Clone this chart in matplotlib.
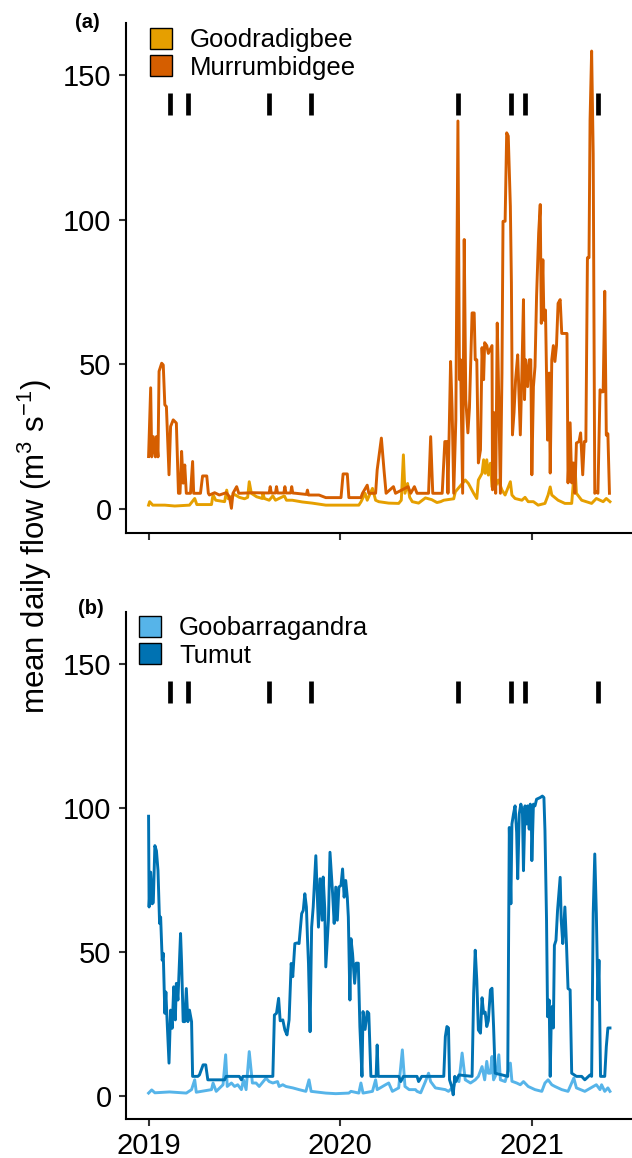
import numpy as np
import matplotlib
matplotlib.use('Agg')
import matplotlib.pyplot as plt
from matplotlib.patches import Patch

plt.rcParams['font.family'] = ['Liberation Sans', 'DejaVu Sans']
plt.rcParams['mathtext.fontset'] = 'custom'
plt.rcParams['mathtext.rm'] = 'Liberation Sans'
plt.rcParams['mathtext.it'] = 'Liberation Sans:italic'

# ---------------- data (day offset from 2019-01-01, mean daily flow) -------------
murr_day = [0, 4, 6, 9, 13, 15, 18, 20, 25, 28, 31, 34, 39, 42, 47, 53, 57, 60, 63, 66,
            69, 72, 80, 84, 86, 99, 103, 111, 114, 116, 126, 135, 148, 154, 158, 161, 168, 172, 199, 230,
            232, 234, 242, 244, 246, 258, 260, 262, 271, 273, 275, 281, 301, 303, 305, 325, 338, 367, 371, 379,
            382, 405, 408, 417, 420, 433, 436, 444, 449, 453, 467, 471, 495, 500, 507, 512, 534, 538, 542, 560,
            565, 569, 571, 576, 579, 582, 586, 590, 593, 595, 599, 602, 605, 609, 612, 617, 621, 623, 626, 629,
            633, 636, 639, 641, 645, 648, 655, 656, 659, 662, 665, 667, 671, 674, 676, 680, 683, 686, 690, 692,
            694, 697, 700, 704, 709, 712, 715, 717, 719, 723, 726, 729, 731, 734, 737, 740, 744, 747, 749, 752,
            754, 757, 761, 764, 766, 769, 772, 775, 778, 781, 785, 788, 794, 798, 800, 804, 807, 810, 813, 816,
            821, 824, 828, 831, 834, 837, 840, 842, 845, 848, 851, 854, 857, 861, 864, 867, 870, 873, 876, 879]
murr_flow = [18.1, 41.9, 18.0, 25.0, 18.0, 25.0, 18.0, 47.6, 50.4, 49.8, 36.0, 35.4, 11.8, 28.5, 30.8, 29.7, 5.4, 5.4, 19.9, 8.9,
             15.2, 5.4, 5.4, 16.4, 5.4, 5.4, 11.4, 11.4, 5.4, 4.8, 5.6, 4.8, 5.6, 4.3, 0.2, 5.4, 7.7, 5.4, 5.6, 5.5,
             7.7, 5.5, 5.5, 7.7, 5.5, 5.5, 7.7, 5.5, 5.5, 7.7, 5.5, 5.4, 5.0, 6.5, 4.8, 4.8, 3.9, 3.9, 12.1, 12.1,
             3.9, 3.9, 5.4, 8.2, 5.4, 5.4, 13.5, 24.5, 13.5, 5.4, 7.7, 5.4, 7.7, 5.4, 7.7, 5.4, 5.4, 25.0, 5.4, 5.4,
             23.3, 23.3, 5.4, 51.0, 34.3, 5.4, 30.8, 134.2, 44.7, 51.6, 5.4, 93.2, 37.8, 26.3, 35.0, 67.8, 67.8, 51.6, 51.6, 15.9,
             20.4, 55.8, 44.7, 57.5, 56.5, 53.8, 56.5, 6.6, 33.3, 5.4, 64.3, 47.0, 5.4, 47.0, 99.5, 99.5, 130.1, 129.0, 104.7, 78.3,
             25.6, 33.3, 44.7, 53.3, 25.6, 47.0, 72.4, 37.8, 51.6, 42.3, 51.6, 51.6, 11.8, 42.3, 49.2, 73.5, 95.5, 105.3, 64.2, 86.2,
             65.3, 68.8, 23.8, 47.0, 12.4, 51.6, 56.5, 51.0, 56.5, 71.1, 72.4, 60.7, 60.7, 60.7, 9.0, 29.8, 9.0, 15.9, 5.4, 22.8,
             23.3, 26.3, 11.8, 23.3, 23.3, 86.9, 86.9, 134.4, 158.4, 122.9, 5.4, 6.0, 5.4, 41.2, 40.5, 40.5, 75.3, 25.5, 26.0, 5.4]

good_day = [0, 2, 8, 31, 50, 78, 88, 92, 120, 123, 128, 145, 149, 152, 158, 164, 173, 183, 189, 192,
            196, 206, 217, 218, 221, 230, 237, 242, 259, 263, 274, 293, 312, 338, 363, 401, 405, 413, 417, 427,
            433, 439, 458, 477, 482, 486, 489, 494, 498, 503, 515, 528, 540, 550, 557, 563, 582, 585, 604, 610,
            620, 626, 629, 636, 639, 642, 645, 648, 652, 655, 661, 667, 674, 680, 690, 693, 699, 712, 718, 724,
            734, 743, 756, 762, 766, 769, 781, 794, 807, 813, 816, 826, 845, 854, 861, 867, 873, 880]
good_flow = [1.3, 2.5, 1.3, 1.3, 1.0, 1.3, 3.6, 1.5, 1.5, 5.0, 3.0, 2.5, 6.5, 3.5, 4.2, 5.0, 4.0, 3.5, 4.0, 9.4,
             5.4, 4.2, 3.6, 5.4, 3.6, 3.0, 4.5, 3.0, 4.5, 3.0, 3.0, 2.4, 2.0, 1.3, 1.3, 1.3, 2.4, 5.4, 3.0, 7.1,
             3.0, 2.5, 2.0, 1.9, 3.0, 18.7, 5.4, 8.8, 4.0, 2.5, 2.0, 3.8, 3.2, 2.2, 2.5, 3.0, 3.5, 5.9, 10.0, 8.8,
             5.4, 3.6, 10.0, 12.3, 17.0, 12.3, 17.0, 11.7, 15.8, 7.6, 7.6, 10.0, 6.5, 4.8, 9.4, 4.8, 3.6, 3.0, 4.0, 2.5,
             2.5, 1.3, 1.9, 4.8, 7.6, 4.8, 3.0, 1.9, 1.9, 15.8, 5.4, 3.0, 1.9, 3.6, 3.0, 2.5, 3.6, 2.5]

tumut_day = [0, 1, 4, 7, 9, 12, 15, 18, 21, 23, 26, 28, 31, 33, 35, 39, 42, 45, 48, 51,
             53, 56, 59, 61, 63, 66, 69, 72, 75, 78, 82, 84, 94, 97, 104, 109, 113, 145, 148, 173,
             177, 180, 237, 240, 244, 248, 251, 256, 260, 264, 268, 272, 275, 279, 283, 287, 292, 295, 298, 301,
             303, 305, 308, 311, 314, 319, 324, 327, 331, 333, 336, 338, 343, 346, 351, 354, 357, 360, 363, 367,
             370, 373, 376, 379, 381, 384, 386, 389, 393, 396, 400, 403, 407, 409, 413, 417, 420, 424, 434, 436,
             438, 477, 481, 486, 512, 515, 521, 563, 566, 569, 572, 574, 578, 581, 584, 586, 592, 617, 620, 623,
             626, 629, 633, 636, 639, 642, 645, 648, 652, 655, 658, 661, 685, 688, 691, 693, 696, 699, 702, 704,
             707, 710, 713, 715, 718, 721, 723, 726, 728, 730, 731, 734, 737, 740, 747, 751, 754, 756, 759, 761,
             764, 766, 768, 770, 772, 774, 777, 780, 785, 787, 790, 794, 797, 800, 804, 807, 816, 826, 832, 842,
             845, 848, 851, 854, 857, 859, 862, 870, 873, 876, 880]
tumut_flow = [97.0, 65.5, 77.6, 66.6, 67.0, 86.8, 85.0, 78.1, 59.8, 62.0, 47.0, 49.4, 28.6, 36.0, 27.4, 11.3, 29.7, 23.4, 37.8, 26.3,
              39.0, 33.2, 47.0, 56.3, 46.0, 25.7, 25.7, 37.2, 25.7, 29.7, 25.7, 6.7, 6.7, 7.2, 10.7, 10.7, 5.5, 5.5, 6.7, 6.7,
              5.5, 6.7, 6.7, 28.0, 28.6, 33.8, 26.0, 26.3, 22.8, 21.1, 26.3, 45.9, 41.3, 52.8, 53.0, 52.8, 63.2, 64.3, 70.1, 65.5,
              55.0, 45.9, 22.2, 58.5, 65.5, 83.3, 58.5, 75.3, 60.9, 75.9, 65.0, 44.7, 60.9, 84.5, 70.1, 59.8, 72.4, 60.9, 72.4, 73.0,
              78.7, 68.9, 74.7, 68.9, 62.0, 33.2, 54.5, 49.4, 39.0, 46.0, 46.0, 24.0, 6.7, 29.2, 23.0, 29.2, 28.6, 6.7, 6.7, 17.6,
              6.7, 6.7, 4.9, 6.7, 6.7, 4.9, 6.7, 6.7, 20.5, 24.0, 23.5, 5.5, 3.2, 0.3, 6.7, 4.9, 7.2, 6.7, 35.5, 50.5,
              40.0, 22.8, 21.7, 34.0, 28.6, 29.0, 24.0, 26.0, 36.7, 37.3, 24.0, 7.8, 6.7, 93.1, 66.6, 94.3, 97.8, 100.6, 91.4, 75.3,
              97.8, 101.2, 98.9, 78.1, 100.6, 94.3, 100.6, 92.5, 101.2, 96.6, 81.6, 101.2, 100.6, 102.9, 103.5, 104.0, 103.5, 92.0, 60.9, 27.4,
              33.2, 6.7, 26.3, 31.0, 23.5, 52.2, 53.9, 64.3, 75.8, 60.9, 52.8, 65.5, 52.8, 37.2, 36.7, 7.8, 6.7, 6.7, 5.5, 7.2,
              6.7, 63.2, 83.9, 63.2, 33.2, 47.0, 6.7, 6.7, 17.0, 23.5, 23.5]

goob_day = [0, 6, 12, 40, 72, 82, 88, 91, 120, 123, 129, 142, 147, 150, 158, 164, 170, 177, 181, 186,
            192, 198, 205, 211, 224, 230, 237, 246, 249, 256, 262, 275, 287, 300, 306, 310, 338, 357, 382, 386,
            401, 405, 409, 427, 433, 436, 452, 458, 465, 477, 484, 489, 497, 509, 512, 519, 528, 534, 538, 547,
            566, 572, 582, 586, 592, 598, 604, 614, 623, 629, 636, 641, 645, 648, 652, 655, 658, 664, 668, 671,
            680, 690, 693, 702, 709, 715, 724, 737, 750, 756, 762, 769, 775, 788, 800, 811, 816, 832, 854, 861,
            864, 870, 876, 880]
goob_flow = [0.9, 2.0, 1.0, 1.3, 0.9, 2.1, 5.5, 1.2, 2.1, 4.4, 1.5, 3.8, 14.2, 3.2, 4.4, 3.2, 3.8, 2.1, 5.5, 2.1,
             15.3, 4.4, 4.4, 3.2, 6.1, 4.9, 4.4, 4.9, 3.2, 3.8, 3.2, 2.7, 2.1, 1.5, 5.5, 1.5, 0.9, 0.7, 0.9, 1.5,
             0.9, 4.4, 0.9, 1.5, 5.5, 2.1, 3.8, 4.4, 1.5, 2.7, 15.9, 3.2, 2.1, 2.1, 1.5, 1.0, 4.9, 7.8, 4.9, 2.7,
             2.1, 1.5, 3.2, 5.5, 4.9, 14.8, 5.5, 4.4, 5.5, 6.7, 10.1, 5.5, 11.9, 7.8, 7.8, 13.6, 5.5, 7.8, 14.2, 5.5,
             4.9, 11.3, 5.0, 4.4, 3.8, 4.9, 3.2, 2.1, 1.5, 4.4, 5.5, 3.8, 3.2, 2.1, 1.5, 6.1, 2.7, 1.5, 3.8, 2.1,
             3.8, 1.5, 2.7, 1.5]

event_dates = ['2019-02-11', '2019-03-17', '2019-08-18', '2019-11-06',
               '2020-08-14', '2020-11-23', '2020-12-18', '2021-05-07']
event_level = 140

year_ticks = ['2019-01-01', '2020-01-01', '2021-01-01']
year_labels = ['2019', '2020', '2021']
y_ticks = [0, 50, 100, 150]

panels = [
    ('(a)', ['Goodradigbee', 'Murrumbidgee'], ['#E69F00', '#D55E00'],
     [(good_day, good_flow), (murr_day, murr_flow)]),
    ('(b)', ['Goobarragandra', 'Tumut'], ['#56B4E9', '#0072B2'],
     [(goob_day, goob_flow), (tumut_day, tumut_flow)]),
]

start = np.datetime64('2019-01-01')


def to_dates(days):
    return start + np.asarray(days).astype('timedelta64[D]')


W, H = 632, 1158
fig = plt.figure(figsize=(W / 100, H / 100), dpi=100)

# axes boxes in pixels: left, top, right, bottom
boxes = [(125.5, 23.3, 632, 532.6), (125.5, 611.7, 632, 1119.3)]
legend_pos = [(150, 28), (139, 616)]
tag_pos = [(87.5, 22), (91, 608)]

for i, ((tag, names, cols, series), (l, t, r, b)) in enumerate(zip(panels, boxes)):
    ax = fig.add_axes([l / W, 1 - b / H, (r - l) / W, (b - t) / H])
    for (d, v), c in zip(series, cols):
        ax.plot(to_dates(d), v, color=c, lw=2.1, solid_joinstyle='round')
    ev = np.array(event_dates, dtype='datetime64[D]')
    ax.plot(ev, [event_level] * len(ev), ls='none', marker='|', color='black',
            markersize=16, markeredgewidth=3.4)
    ax.set_xlim(start - np.timedelta64(44, 'D'), start + np.timedelta64(922, 'D'))
    ax.set_ylim(-8.2, 168)
    ax.set_yticks(y_ticks)
    ax.set_xticks(np.array(year_ticks, dtype='datetime64[D]'))
    if i == 1:
        ax.set_xticklabels(year_labels)
    else:
        ax.set_xticklabels([])
    for s in ['top', 'right']:
        ax.spines[s].set_visible(False)
    for s in ['left', 'bottom']:
        ax.spines[s].set_linewidth(1.5)
    ax.tick_params(axis='both', length=5, width=1.5, labelsize=21, color='#333333',
                   labelcolor='black')
    ax.tick_params(axis='y', pad=5)
    ax.tick_params(axis='x', pad=4)
    handles = [Patch(facecolor=c, edgecolor='black', linewidth=1.0) for c in cols]
    lx, ly = legend_pos[i]
    ax.legend(handles, names, loc='upper left', bbox_to_anchor=(lx / W, 1 - ly / H),
              bbox_transform=fig.transFigure, frameon=False, fontsize=18.5,
              handlelength=0.86, handleheight=0.86, handletextpad=0.7,
              labelspacing=0.12, borderpad=0, borderaxespad=0)
    tx, ty = tag_pos[i]
    fig.text(tx / W, 1 - ty / H, tag, fontsize=14.5, fontweight='bold',
             ha='center', va='center')

fig.text(35 / W, 1 - 547 / H, r'mean daily flow (m$^{3}$ s$^{-1}$)', rotation=90,
         fontsize=22.5, ha='center', va='center')

fig.savefig('out.png', dpi=100)
